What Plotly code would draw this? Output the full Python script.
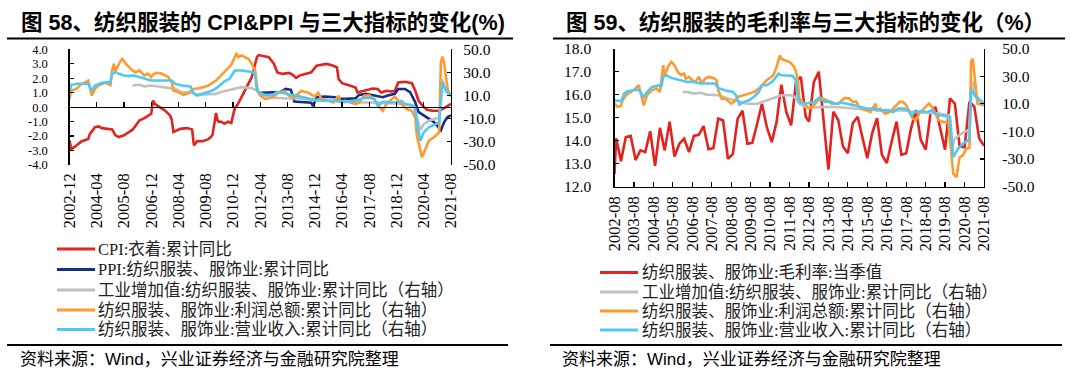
import plotly.graph_objects as go

# ---------------- data: left chart (图58) ----------------
left_tick_labels = ["2002-12", "2004-04", "2005-08", "2006-12", "2008-04", "2009-08", "2010-12",
                    "2012-04", "2013-08", "2014-12", "2016-04", "2017-08", "2018-12", "2020-04", "2021-08"]
left_y_vals = [-4, -3, -2, -1, 0, 1, 2, 3, 4]
left_y_text = ["-4.0", "-3.0", "-2.0", "-1.0", "0.0", "1.0", "2.0", "3.0", "4.0"]
right_y_vals = [-50, -30, -10, 10, 30, 50]
right_y_text = ["-50.0", "-30.0", "-10.0", "10.0", "30.0", "50.0"]

cpi_dates = ["2002-12", "2003-01", "2003-03", "2003-07", "2003-11", "2003-12", "2004-03", "2004-05", "2004-07",
             "2004-11", "2005-01", "2005-03", "2005-05", "2005-08", "2005-11", "2006-01", "2006-03", "2006-05",
             "2006-08", "2006-10", "2006-12", "2007-01", "2007-02", "2007-05", "2007-08", "2007-11", "2007-12",
             "2008-01", "2008-03", "2008-05", "2008-09", "2008-12", "2009-01", "2009-03", "2009-06", "2009-09",
             "2009-11", "2009-12", "2010-01", "2010-02", "2010-03", "2010-04", "2010-05", "2010-07", "2010-09",
             "2010-11", "2010-12", "2011-01", "2011-03", "2011-05", "2011-07", "2011-09", "2011-11", "2011-12",
             "2012-02", "2012-03", "2012-09", "2012-12", "2013-02", "2013-05", "2013-09", "2013-11", "2014-01",
             "2014-03", "2014-07", "2014-10", "2015-01", "2015-04", "2015-07", "2015-10", "2016-01", "2016-02",
             "2016-04", "2016-08", "2016-12", "2017-01", "2017-06", "2017-10", "2018-01", "2018-03", "2018-06",
             "2018-09", "2018-11", "2019-01", "2019-05", "2019-09", "2019-11", "2020-01", "2020-04", "2020-06",
             "2020-09", "2021-01", "2021-04", "2021-06", "2021-08"]
cpi_values = [-2.3, -2.9, -2.75, -2.37, -2.2, -1.85, -1.38, -1.33, -1.45, -1.5, -1.55, -1.95, -2.07, -1.95, -1.72,
              -1.56, -1.26, -0.92, -0.76, -0.62, -0.46, 0.46, 0.23, 0.0, -0.23, -0.57, -0.85, -1.72, -1.6, -1.5,
              -1.45, -1.55, -2.64, -2.35, -2.35, -2.25, -2.07, -1.9, -1.15, -0.4, -0.92, -1.03, -1.0, -1.15, -1.0,
              -1.1, -0.57, -0.1, 0.23, 0.69, 1.15, 1.6, 2.07, 2.5, 3.45, 3.6, 3.45, 3.0, 2.4, 2.3, 2.37, 2.23,
              2.02, 2.18, 2.3, 2.41, 2.87, 2.92, 2.99, 2.9, 2.76, 1.95, 1.66, 1.52, 1.36, 1.01, 1.15, 1.29, 1.25,
              1.01, 1.13, 1.08, 1.13, 1.7, 1.75, 1.66, 1.13, 0.44, 0.0, -0.18, -0.25, -0.25, -0.07, 0.07, 0.23]

ppi_dates = ["2012-04", "2012-10", "2013-04", "2013-07", "2013-10", "2013-12", "2014-04", "2014-10", "2014-11",
             "2015-01", "2015-06", "2015-12", "2016-01", "2016-06", "2016-12", "2017-02", "2017-06", "2017-11",
             "2018-04", "2018-07", "2018-11", "2019-01", "2019-05", "2019-08", "2019-11", "2020-01", "2020-04",
             "2020-07", "2020-10", "2020-12", "2021-02", "2021-04", "2021-06", "2021-08"]
ppi_values = [1.0, 1.0, 1.05, 1.26, 1.2, 0.39, 0.34, 0.3, 0.07, 0.69, 0.73, 0.69, 0.6, 0.57, 0.62, 0.85, 0.92, 0.8,
              0.69, 0.8, 0.92, 1.26, 1.26, 1.03, 0.34, -0.34, -0.57, -0.8, -1.03, -1.3, -1.6, -1.03, -0.69, -0.57]

va_l_dates = ["2006-01", "2006-05", "2006-08", "2006-12", "2007-04", "2007-08", "2008-02", "2008-06", "2008-12",
              "2009-04", "2009-10", "2010-02", "2010-05", "2010-09", "2011-01", "2011-05", "2011-11", "2012-02",
              "2012-04", "2012-11", "2013-07", "2014-03", "2014-10", "2015-06", "2016-04", "2017-02", "2017-12",
              "2018-09", "2019-05", "2019-10", "2019-12", "2020-02", "2020-04", "2020-07", "2020-11", "2021-01",
              "2021-02", "2021-03", "2021-05", "2021-08"]
va_l_values = [18.7, 19.3, 18.0, 18.7, 17.9, 17.3, 15.8, 13.0, 12.4, 10.7, 11.5, 11.5, 13.0, 14.4, 16.4, 17.3, 16.4,
               14.4, 11.0, 8.3, 7.5, 7.5, 6.3, 5.5, 4.6, 4.0, 4.0, 3.4, 2.6, 1.1, -8.9, -19.5, -14.7, -11.8, -9.8,
               -9.0, 5.5, 24.0, 14.0, 9.8]

profit_l_dates = ["2002-12", "2003-01", "2003-04", "2003-07", "2003-10", "2003-11", "2003-12", "2004-01", "2004-03",
                  "2004-05", "2004-07", "2004-09", "2004-11", "2004-12", "2005-01", "2005-02", "2005-03", "2005-04",
                  "2005-06", "2005-07", "2005-09", "2005-11", "2006-01", "2006-03", "2006-05", "2006-07", "2006-08",
                  "2006-10", "2006-12", "2007-01", "2007-03", "2007-06", "2007-08", "2007-10", "2007-12", "2008-01",
                  "2008-03", "2008-05", "2008-07", "2008-09", "2008-11", "2009-01", "2009-04", "2009-07", "2009-09",
                  "2009-12", "2010-02", "2010-04", "2010-06", "2010-09", "2010-11", "2011-01", "2011-02", "2011-03",
                  "2011-05", "2011-07", "2011-09", "2011-11", "2012-01", "2012-02", "2012-03", "2012-04", "2012-07",
                  "2012-11", "2013-03", "2013-06", "2013-09", "2013-12", "2014-04", "2014-08", "2014-12", "2015-02",
                  "2015-04", "2015-08", "2015-11", "2016-02", "2016-03", "2016-06", "2016-09", "2016-12", "2017-02",
                  "2017-05", "2017-08", "2017-11", "2018-02", "2018-04", "2018-06", "2018-09", "2018-11", "2019-01",
                  "2019-04", "2019-06", "2019-09", "2019-11", "2019-12", "2020-02", "2020-03", "2020-05", "2020-07",
                  "2020-10", "2020-12", "2021-01", "2021-02", "2021-03", "2021-04", "2021-05", "2021-06", "2021-07",
                  "2021-08"]
profit_l_values = [7.2, 14.4, 15.8, 20, 22, 23, 17, 10, 15.8, 18.7, 20, 21, 20, 19, 31.7, 37.5, 30, 34.6, 40, 41.8,
                   37.5, 34.6, 31.7, 30, 31.7, 28.8, 27.4, 29, 26, 28, 29.7, 29, 27.4, 26, 21.6, 14.4, 13.5, 12.4,
                   10.7, 11.5, 13.5, 15.8, 16.4, 17.3, 18.2, 21, 23, 26, 28.8, 33, 36.6, 43.2, 46.7, 43.2, 44.7,
                   43.2, 41.8, 37.5, 31.7, 18.7, 12, 10, 6.9, 8.3, 12.6, 14, 9.8, 8.3, 14, 12.6, 9.2, 12.6, 6.9, 5.5,
                   4, 9.8, 4.6, 5.5, 4, 2.6, 4, 9.8, 10.3, 6.9, -0.3, -3.2, 2.6, 6.9, 9.2, 5.5, 1.1, -1.7, -3.2,
                   -8.9, -24.7, -39, -43.4, -36.2, -29, -26, -23.3, -21.8, 38.5, 43.7, 38, 26, 16, 12, 9.8]

rev_l_dates = ["2002-12", "2003-01", "2003-05", "2003-09", "2003-11", "2004-01", "2004-03", "2004-07", "2004-11",
               "2004-12", "2005-01", "2005-03", "2005-05", "2005-08", "2005-11", "2006-01", "2006-05", "2006-08",
               "2006-12", "2007-08", "2007-12", "2008-02", "2008-06", "2008-11", "2009-01", "2009-03", "2009-06",
               "2009-09", "2009-12", "2010-03", "2010-05", "2010-07", "2010-10", "2010-12", "2011-01", "2011-05",
               "2011-09", "2011-12", "2012-01", "2012-02", "2012-03", "2012-04", "2012-07", "2012-11", "2013-02",
               "2013-05", "2013-08", "2013-12", "2014-06", "2014-12", "2015-06", "2015-12", "2016-06", "2016-12",
               "2017-04", "2017-08", "2017-11", "2018-01", "2018-04", "2018-09", "2019-01", "2019-03", "2019-05",
               "2019-09", "2019-11", "2019-12", "2020-02", "2020-04", "2020-07", "2020-11", "2021-01", "2021-02",
               "2021-03", "2021-04", "2021-06", "2021-08"]
rev_l_values = [13, 19.3, 20.2, 20.2, 20.2, 14.4, 18.7, 21, 21.6, 21.6, 28.8, 30.3, 28.8, 27.4, 26.8, 27.4, 26, 24.5,
                23, 23, 23, 20.2, 18.7, 17.9, 11.5, 10, 11.5, 13, 14.4, 17.3, 20.2, 22.2, 24.5, 28.8, 31.7, 31.7,
                30.8, 30.3, 27.4, 14.4, 13, 12.4, 10.3, 10.3, 13.2, 12.6, 11.2, 10.3, 8.3, 6.3, 5.5, 5.5, 4.6, 5.5,
                7.5, 8.3, 6.9, 1.1, 4.6, 4.6, 4.0, 5.5, 2.6, 1.7, -0.3, -13.2, -29, -21.8, -17.5, -14.7, -13.2, 5.5,
                21.3, 17, 12.6, 9.8]

# ---------------- data: right chart (图59) ----------------
right_tick_labels = ["2002-08", "2003-08", "2004-08", "2005-08", "2006-08", "2007-08", "2008-08", "2009-08",
                     "2010-08", "2011-08", "2012-08", "2013-08", "2014-08", "2015-08", "2016-08", "2017-08",
                     "2018-08", "2019-08", "2020-08", "2021-08"]
margin_y_vals = [12, 13, 14, 15, 16, 17, 18]
margin_y_text = ["12.0", "13.0", "14.0", "15.0", "16.0", "17.0", "18.0"]

gm_dates = ["2002-08", "2002-09", "2002-12", "2003-03", "2003-06", "2003-09", "2003-12", "2004-03", "2004-06",
            "2004-09", "2004-12", "2005-03", "2005-06", "2005-09", "2005-12", "2006-03", "2006-06", "2006-09",
            "2006-12", "2007-03", "2007-06", "2007-09", "2007-12", "2008-03", "2008-06", "2008-09", "2008-12",
            "2009-03", "2009-06", "2009-09", "2009-12", "2010-03", "2010-06", "2010-09", "2010-12", "2011-03",
            "2011-06", "2011-09", "2011-12", "2012-03", "2012-06", "2012-08", "2012-11", "2013-02", "2013-08",
            "2013-11", "2014-02", "2014-05", "2014-08", "2014-11", "2015-02", "2015-05", "2015-08", "2015-11",
            "2016-02", "2016-05", "2016-08", "2016-11", "2017-02", "2017-05", "2017-08", "2017-11", "2018-02",
            "2018-05", "2018-08", "2018-11", "2019-02", "2019-05", "2019-08", "2019-11", "2020-02", "2020-05",
            "2020-08", "2020-11", "2021-02", "2021-05", "2021-08"]
gm_values = [12.55, 14.1, 13.1, 14.15, 14.2, 13.15, 13.57, 13.5, 14.4, 12.9, 14.55, 13.57, 14.82, 13.3, 13.86, 14.08,
             13.5, 14.2, 14.25, 14.63, 13.62, 13.67, 14.95, 14.87, 13.2, 13.42, 14.95, 15.3, 13.86, 13.9, 14.73,
             15.6, 14.58, 13.93, 14.8, 16.43, 15.24, 14.66, 16.55, 16.77, 15.03, 14.82, 16.55, 16.99, 12.73, 15.25,
             14.89, 13.74, 13.45, 14.75, 15.03, 14.17, 13.23, 14.32, 14.97, 13.38, 13.02, 13.96, 14.82, 13.38, 13.45,
             14.53, 15.32, 14.03, 13.6, 15.18, 15.46, 14.53, 13.6, 15.83, 15.6, 13.74, 13.71, 15.69, 15.46, 14.1,
             13.77]

va_r_dates = ["2006-02", "2006-05", "2006-09", "2007-01", "2007-05", "2007-12", "2008-06", "2008-12", "2009-06",
              "2009-12", "2010-04", "2010-11", "2011-03", "2011-09", "2011-11", "2012-01", "2012-02", "2012-07",
              "2013-03", "2013-12", "2014-08", "2015-04", "2015-12", "2016-09", "2017-05", "2018-01", "2018-09",
              "2019-05", "2019-10", "2019-12", "2020-02", "2020-06", "2020-10", "2020-11", "2020-12", "2021-01",
              "2021-03", "2021-08"]
va_r_values = [18.5, 18.5, 17.3, 17.9, 16.6, 16.1, 13.7, 11.7, 10, 10, 11.7, 14.9, 16.1, 16.1, 14.9, 11.7, 10, 6.9,
               7.6, 7.6, 6.9, 5.9, 5.2, 4.5, 5.2, 4, 3.5, 2.8, 1.6, -22.6, -15.4, -11.7, -9.3, -8.6, 22, 25.8, 16.1,
               10]

profit_r_dates = ["2002-08", "2002-10", "2002-12", "2003-01", "2003-03", "2003-06", "2003-09", "2003-11", "2003-12",
                  "2004-02", "2004-04", "2004-07", "2004-10", "2004-12", "2005-01", "2005-02", "2005-03", "2005-05",
                  "2005-07", "2005-09", "2005-11", "2006-01", "2006-03", "2006-04", "2006-06", "2006-08", "2006-10",
                  "2006-12", "2007-02", "2007-04", "2007-06", "2007-09", "2007-11", "2007-12", "2008-02", "2008-05",
                  "2008-08", "2008-10", "2008-12", "2009-04", "2009-07", "2009-10", "2010-01", "2010-03", "2010-06",
                  "2010-10", "2010-12", "2011-02", "2011-03", "2011-05", "2011-08", "2011-10", "2011-11", "2011-12",
                  "2012-01", "2012-02", "2012-05", "2012-08", "2012-11", "2013-03", "2013-07", "2013-10", "2014-02",
                  "2014-06", "2014-09", "2014-11", "2015-01", "2015-03", "2015-07", "2015-10", "2016-01", "2016-02",
                  "2016-04", "2016-07", "2016-10", "2017-01", "2017-04", "2017-06", "2017-08", "2017-10", "2017-12",
                  "2018-02", "2018-04", "2018-06", "2018-08", "2018-10", "2018-12", "2019-02", "2019-04", "2019-07",
                  "2019-10", "2019-11", "2020-01", "2020-03", "2020-05", "2020-07", "2020-09", "2020-11", "2020-12",
                  "2021-01", "2021-03", "2021-04", "2021-08"]
profit_r_values = [10, 7.6, 8.5, 12.5, 16, 18.5, 21, 23.4, 19, 8.8, 16, 19.7, 21, 18.5, 28, 37.9, 30.6, 36.7, 40.3,
                   37.9, 33, 30.6, 31.8, 28, 29.4, 27, 25.8, 29.4, 24.6, 28.2, 29.4, 28.7, 27, 19.7, 13.7, 13.2, 10,
                   11.7, 14.9, 16, 17.3, 18.5, 21, 23.4, 27, 30.6, 36.7, 45, 42.5, 41.5, 40.3, 37.9, 36.5, 33, 28,
                   13.7, 10, 6.4, 8.8, 14.2, 12.5, 10, 10, 14.2, 13.7, 11.3, 11.7, 7.6, 5.2, 4, 10, 5.2, 6.4, 2.8, 4,
                   7.6, 11.3, 11.3, 8.8, 4, -0.8, -2, 2.8, 5.2, 7.6, 10, 7.6, 2.8, -2, -3.3, -3.3, -15.4, -40.8,
                   -43.2, -28.7, -27.5, -22.6, -22, 40.3, 42.7, 23.4, 10, 8.8]

rev_r_dates = ["2002-08", "2002-12", "2003-02", "2003-04", "2003-08", "2003-11", "2003-12", "2004-02", "2004-04",
               "2004-07", "2004-11", "2005-01", "2005-02", "2005-04", "2005-07", "2005-09", "2006-01", "2006-05",
               "2006-09", "2007-01", "2007-05", "2007-10", "2007-12", "2008-04", "2008-09", "2008-11", "2009-01",
               "2009-04", "2009-07", "2009-10", "2010-01", "2010-03", "2010-06", "2010-09", "2010-11", "2011-01",
               "2011-03", "2011-07", "2011-10", "2011-11", "2011-12", "2012-01", "2012-02", "2012-05", "2012-08",
               "2012-11", "2013-02", "2013-06", "2013-09", "2013-12", "2014-04", "2014-08", "2014-12", "2015-04",
               "2015-08", "2015-12", "2016-04", "2016-09", "2016-12", "2017-03", "2017-07", "2017-10", "2017-11",
               "2018-01", "2018-05", "2018-09", "2018-12", "2019-02", "2019-05", "2019-08", "2019-11", "2019-12",
               "2020-01", "2020-04", "2020-07", "2020-10", "2020-11", "2020-12", "2021-02", "2021-05", "2021-08"]
rev_r_values = [12.5, 11.7, 17.3, 19, 19.7, 20.2, 18.5, 14.9, 18.5, 22, 23.4, 23, 29.4, 30.6, 28.7, 28.2, 27, 25.8,
                25.8, 24.6, 24.6, 24.6, 21.4, 19.7, 18.5, 16, 9.3, 11.3, 12.5, 14.9, 18.5, 23.4, 23.4, 25.8, 28.2,
                31.8, 30.6, 30.6, 30.2, 28.5, 27, 15, 11.3, 10, 10.5, 11.3, 14.2, 11.3, 11.7, 10, 10.8, 10, 8.8, 7.6,
                6.4, 6.4, 5.2, 5.2, 4, 6.4, 6.4, 4.5, 1.1, 4, 4.5, 4, 5.2, 2.8, 1.6, 1.1, 0.4, -12.9, -28.7, -22.6,
                -19, -16.6, -15.4, 21, 16.1, 12.5, 10]

# ---------------- text ----------------
title_left = "图 58、纺织服装的 CPI&amp;PPI 与三大指标的变化(%)"
title_right = "图 59、纺织服装的毛利率与三大指标的变化（%）"
legend_left = ["CPI:衣着:累计同比",
               "PPI:纺织服装、服饰业:累计同比",
               "工业增加值:纺织服装、服饰业:累计同比（右轴）",
               "纺织服装、服饰业:利润总额:累计同比（右轴）",
               "纺织服装、服饰业:营业收入:累计同比（右轴）"]
legend_right = ["纺织服装、服饰业:毛利率:当季值",
                "工业增加值:纺织服装、服饰业:累计同比（右轴）",
                "纺织服装、服饰业:利润总额:累计同比（右轴）",
                "纺织服装、服饰业:营业收入:累计同比（右轴）"]
source_text = "资料来源：Wind，兴业证券经济与金融研究院整理"

# ---------------- styles ----------------
RED = "#E2231F"
NAVY = "#152F86"
GRAY = "#C0C0C0"
ORANGE = "#FF9A2E"
CYAN = "#4FC9F3"
LW = 2.6
W, H = 1070, 380
SERIF = "Liberation Serif, Noto Sans CJK SC"
SANS = "Liberation Sans, Noto Sans CJK SC"


def px(x):
    return x / W


def py(y):
    return 1 - y / H


fig = go.Figure()


def add_line(xs, ys, color, xa, ya):
    fig.add_trace(go.Scatter(x=xs, y=ys, mode="lines", line=dict(color=color, width=LW),
                             xaxis=xa, yaxis=ya, showlegend=False, hoverinfo="skip"))


# left chart
add_line(cpi_dates, cpi_values, RED, "x", "y")
add_line(ppi_dates, ppi_values, NAVY, "x", "y")
add_line(va_l_dates, va_l_values, GRAY, "x", "y2")
add_line(profit_l_dates, profit_l_values, ORANGE, "x", "y2")
add_line(rev_l_dates, rev_l_values, CYAN, "x", "y2")
# carrier for the axis drawn through zero (no data)
fig.add_trace(go.Scatter(x=[], y=[], xaxis="x3", yaxis="y", showlegend=False, hoverinfo="skip"))
# right chart
add_line(gm_dates, gm_values, RED, "x2", "y3")
add_line(va_r_dates, va_r_values, GRAY, "x2", "y4")
add_line(profit_r_dates, profit_r_values, ORANGE, "x2", "y4")
add_line(rev_r_dates, rev_r_values, CYAN, "x2", "y4")

ytickfont = dict(family=SERIF, size=15.5, color="black")
ysmallfont = dict(family=SERIF, size=12.5, color="black")
xtickfont = dict(family=SERIF, size=16.5, color="black")
common_y = dict(ticks="inside", ticklen=4, tickwidth=1.2, tickcolor="black", showline=True, linecolor="black",
                linewidth=1.2, showgrid=False, zeroline=False, automargin=False)

L_TOP, L_BOT, L_ZERO = 49.3, 165.0, 107.2
R_TOP, R_BOT = 48.5, 186.5

fig.update_layout(
    width=W, height=H, margin=dict(l=0, r=0, t=0, b=0, autoexpand=False),
    paper_bgcolor="white", plot_bgcolor="white", showlegend=False,
    xaxis=dict(domain=[px(69.5), px(451)], anchor="y", type="date", automargin=False,
               range=[left_tick_labels[0], left_tick_labels[-1]],
               tickvals=left_tick_labels, ticktext=left_tick_labels, tickangle=-90,
               showline=False, ticks="", showgrid=False, zeroline=False, tickfont=xtickfont,
               ticklabelstandoff=4),
    xaxis3=dict(overlaying="x", anchor="free", position=py(L_ZERO), side="bottom", type="date",
                automargin=False, range=[left_tick_labels[0], left_tick_labels[-1]],
                tickvals=left_tick_labels, showticklabels=False, ticks="inside", ticklen=5, tickwidth=1.2,
                tickcolor="black", showline=True, linecolor="black", linewidth=1.2, showgrid=False,
                zeroline=False),
    yaxis=dict(domain=[py(L_BOT), py(L_TOP)], anchor="x", range=[-4, 4], tickfont=ysmallfont,
               tickvals=left_y_vals, ticktext=left_y_text, ticklabelstandoff=18, **common_y),
    yaxis2=dict(overlaying="y", side="right", anchor="x", range=[-50, 50], tickfont=ytickfont,
                tickvals=right_y_vals, ticktext=right_y_text, ticklabelstandoff=8, **common_y),
    xaxis2=dict(domain=[px(614.5), px(984)], anchor="y3", type="date", automargin=False,
                range=[right_tick_labels[0], right_tick_labels[-1]],
                tickvals=right_tick_labels, ticktext=right_tick_labels, tickangle=-90,
                showline=True, linecolor="black", linewidth=1.2, ticks="inside", ticklen=5, tickwidth=1.2,
                tickcolor="black", showgrid=False, zeroline=False, tickfont=xtickfont, ticklabelstandoff=2),
    yaxis3=dict(domain=[py(R_BOT), py(R_TOP)], anchor="x2", range=[12, 18], tickfont=ytickfont,
                tickvals=margin_y_vals, ticktext=margin_y_text, ticklabelstandoff=19, **common_y),
    yaxis4=dict(overlaying="y3", side="right", anchor="x2", range=[-50, 50], tickfont=ytickfont,
                tickvals=right_y_vals, ticktext=right_y_text, ticklabelstandoff=14, **common_y),
)

shapes = []
annotations = []


def hline(x0, x1, y, color="black", width=2):
    shapes.append(dict(type="line", xref="paper", yref="paper", x0=px(x0), x1=px(x1), y0=py(y), y1=py(y),
                       line=dict(color=color, width=width)))


def text(x, y, s, size, family, bold=False, color="black"):
    annotations.append(dict(xref="paper", yref="paper", x=px(x), y=py(y), xanchor="left", yanchor="middle",
                            text=("<b>%s</b>" % s) if bold else s, showarrow=False,
                            font=dict(family=family, size=size, color=color)))


# titles and rules
text(19, 23, title_left, 21.5, SANS, bold=True)
text(564, 23, title_right, 21.5, SANS, bold=True)
hline(7, 513, 38.5)
hline(553, 1065, 38.5)
hline(7, 508, 345)
hline(550, 1062, 345)

# legends
left_colors = [RED, NAVY, GRAY, ORANGE, CYAN]
left_rows = [249, 269.5, 290, 310, 329.5]
for label, color, yy in zip(legend_left, left_colors, left_rows):
    hline(57, 95, yy, color=color, width=3)
    text(96, yy, label, 16.5, SERIF, color="#222222")
right_colors = [RED, GRAY, ORANGE, CYAN]
right_rows = [272.5, 292, 311, 330]
for label, color, yy in zip(legend_right, right_colors, right_rows):
    hline(600, 638, yy, color=color, width=3)
    text(640, yy, label, 16.5, SERIF, color="#222222")

# sources
text(18, 359, source_text, 17, SANS)
text(560, 359, source_text, 17, SANS)

fig.update_layout(shapes=shapes, annotations=annotations)
fig.write_html("out.html", config={"displayModeBar": False, "staticPlot": True},
               post_script="document.body.style.margin='0px';document.body.style.padding='0px';")
